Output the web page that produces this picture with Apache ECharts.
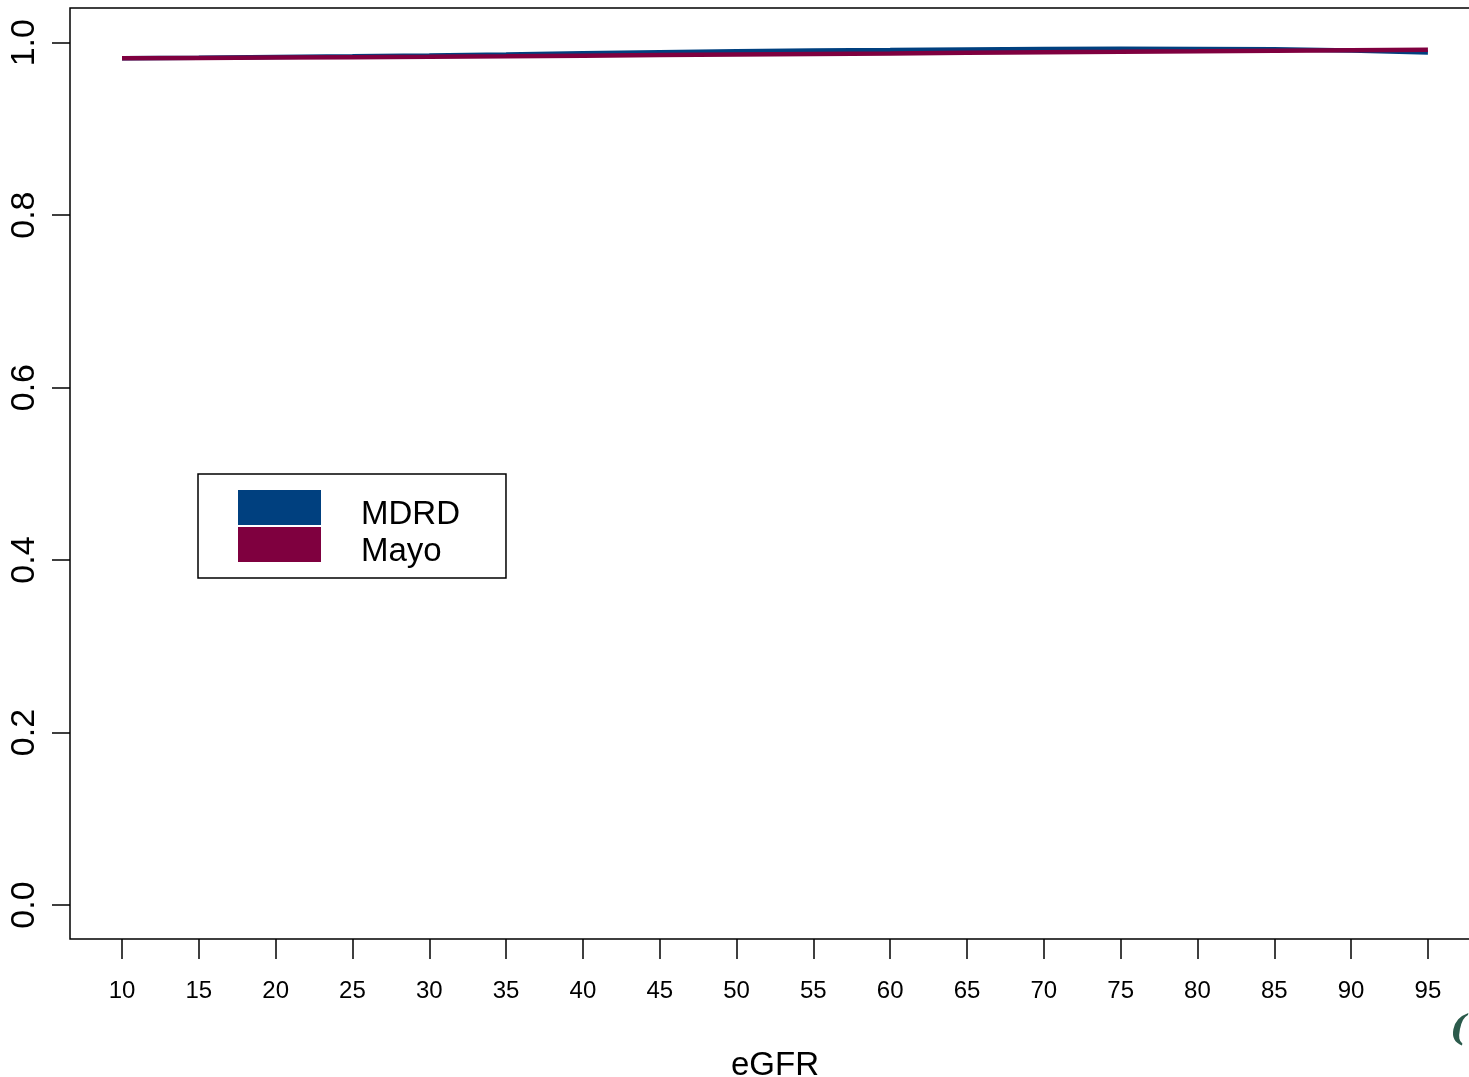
<!DOCTYPE html>
<html>
<head>
<meta charset="utf-8">
<script src="https://cdn.jsdelivr.net/npm/echarts@6/dist/echarts.min.js"></script>
<style>
  html, body { margin: 0; padding: 0; background: #fff; }
  #chart { width: 1469px; height: 1077px; }
</style>
</head>
<body>
<div id="chart"></div>
<script>
// eGFR categories and estimated proportions per equation
const egfr = [10, 15, 20, 25, 30, 35, 40, 45, 50, 55, 60, 65, 70, 75, 80, 85, 90, 95];
const mdrd = [0.9819, 0.9826, 0.9834, 0.9842, 0.9851, 0.9862, 0.9876, 0.9890, 0.9900, 0.9908,
              0.9914, 0.9922, 0.9928, 0.9930, 0.9928, 0.9923, 0.9908, 0.9885];
const mayo = [0.9819, 0.9823, 0.9827, 0.9831, 0.9836, 0.9842, 0.9849, 0.9857, 0.9864, 0.9870,
              0.9875, 0.9883, 0.9889, 0.9894, 0.9900, 0.9907, 0.9913, 0.9919];
const yTicks = [0.0, 0.2, 0.4, 0.6, 0.8, 1.0];
const seriesNames = ['MDRD', 'Mayo'];
const seriesColors = ['#00407f', '#7f003f'];

const FONT = '"Liberation Sans", Arial, Helvetica, sans-serif';

const chart = echarts.init(document.getElementById('chart'), null, { renderer: 'canvas' });

const pair = (xs, ys) => xs.map((x, i) => [x, ys[i]]);

chart.setOption({
  backgroundColor: '#ffffff',
  animation: false,
  grid: {
    left: 70, top: 8, width: 1420, height: 931,
    outerBoundsMode: 'none',
    containLabel: false,
    show: true, borderColor: '#000', borderWidth: 1.5, backgroundColor: 'transparent'
  },
  xAxis: {
    type: 'value',
    min: 6.616, max: 99.04,
    name: 'eGFR',
    nameLocation: 'middle',
    nameGap: 110,
    nameTextStyle: { fontFamily: FONT, fontSize: 33, color: '#000', padding: [0, 10, 0, 0] },
    axisLine: { show: false, onZero: false },
    splitLine: { show: false },
    axisTick: { show: true, inside: false, length: 20, customValues: egfr,
                lineStyle: { color: '#000', width: 1.5 } },
    axisLabel: { show: true, customValues: egfr, margin: 40,
                 fontFamily: FONT, fontSize: 24, color: '#000' }
  },
  yAxis: {
    type: 'value',
    min: -0.0394, max: 1.0402,
    axisLine: { show: false, onZero: false },
    splitLine: { show: false },
    axisTick: { show: true, inside: false, length: 18, customValues: yTicks,
                lineStyle: { color: '#000', width: 1.5 } },
    axisLabel: { show: true, customValues: yTicks, rotate: 90, margin: 28,
                 fontFamily: FONT, fontSize: 34, color: '#000',
                 formatter: v => v.toFixed(1) }
  },
  legend: {
    show: true,
    orient: 'vertical',
    left: 198, top: 474,
    padding: [16, 46, 10, 40],
    borderColor: '#000', borderWidth: 1.5,
    backgroundColor: '#fff',
    itemWidth: 83, itemHeight: 35, itemGap: -4,
    icon: 'rect',
    selectedMode: false,
    data: seriesNames,
    formatter: '{t|{name}}',
    textStyle: {
      fontFamily: FONT, fontSize: 33, color: '#000',
      rich: { t: { fontFamily: FONT, fontSize: 33, color: '#000',
                   lineHeight: 33, padding: [7, 0, -7, 35] } }
    }
  },
  series: seriesNames.map((name, i) => ({
    name,
    type: 'line',
    data: pair(egfr, i === 0 ? mdrd : mayo),
    showSymbol: false,
    symbol: 'none',
    lineStyle: { color: seriesColors[i], width: 4.5 },
    itemStyle: { color: seriesColors[i] },
    z: 2 + i
  })),
  graphic: [{
    type: 'text',
    left: 1450, top: 1013,
    style: { text: '(', fill: '#2b5a4b', font: 'italic bold 36px "DejaVu Serif", serif' }
  }]
});
</script>
</body>
</html>
